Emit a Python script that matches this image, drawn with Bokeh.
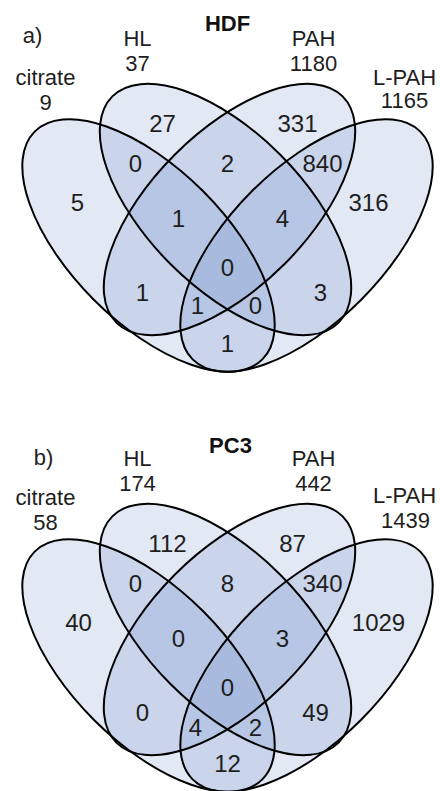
from bokeh.plotting import figure
from bokeh.models import Range1d, ColumnDataSource
from bokeh.core.properties import value
from bokeh.embed import file_html
from bokeh.resources import INLINE

# ---------------- data ----------------
set_names = ["citrate", "HL", "PAH", "L-PAH"]
region_keys = ["A", "B", "C", "D", "AB", "BC", "CD", "ABC", "BCD", "ABCD",
               "AC", "BD", "ACD", "ABD", "AD"]

hdf_title = "HDF"
hdf_totals = [9, 37, 1180, 1165]
hdf_counts = [5, 27, 331, 316, 0, 2, 840, 1, 4, 0, 1, 3, 1, 0, 1]

pc3_title = "PC3"
pc3_totals = [58, 174, 442, 1439]
pc3_counts = [40, 112, 87, 1029, 0, 8, 340, 0, 3, 0, 0, 49, 4, 2, 12]

panel_tags = ["a)", "b)"]

# ---------------- layout (pixel positions, y downward) ----------------
W, H = 440, 791
ell_cx = [148, 225, 229, 306]
ell_cy = [245, 209, 209, 245]
ell_w = [322, 320, 320, 322]
ell_h = [154, 155, 155, 154]
ell_ang = [-45, -45, 45, 45]

pos_top = {"A": (77, 202), "B": (162, 123), "C": (297, 123), "D": (368, 202),
           "AB": (135, 163), "BC": (227, 163), "CD": (322, 163),
           "ABC": (178, 218), "BCD": (282, 218), "ABCD": (227, 267),
           "AC": (142, 292), "BD": (320, 292), "ACD": (197, 305),
           "ABD": (255, 305), "AD": (227, 343)}
pos_bot = {"A": (78, 202), "B": (167, 123), "C": (292, 123), "D": (378, 202),
           "AB": (135, 163), "BC": (227, 163), "CD": (322, 163),
           "ABC": (178, 218), "BCD": (282, 218), "ABCD": (227, 267),
           "AC": (142, 292), "BD": (315, 292), "ACD": (195, 307),
           "ABD": (255, 307), "AD": (227, 343)}
label_pos_top = [(45, 77), (137, 38), (313, 38), (404, 77)]
total_pos_top = [(45, 102), (137, 63), (313, 63), (404, 100)]
label_pos_bot = [(45, 77), (137, 38), (313, 38), (404, 75)]
total_pos_bot = [(45, 102), (137, 63), (313, 63), (405, 100)]
title_pos = [(227, 23), (230, 25)]
tag_pos = [(32, 35), (43, 37)]
offsets = [0, 420]

FONT = "Liberation Sans"
TXT = "#1e1e1e"

p = figure(frame_width=W, frame_height=H, x_range=Range1d(0, W),
           y_range=Range1d(-H, 0), output_backend="svg",
           toolbar_location=None, x_axis_type=None, y_axis_type=None,
           min_border=0)
p.grid.visible = False
p.outline_line_color = None
p.background_fill_color = "white"

panels = [(hdf_title, hdf_totals, hdf_counts, pos_top, label_pos_top, total_pos_top),
          (pc3_title, pc3_totals, pc3_counts, pos_bot, label_pos_bot, total_pos_bot)]

for i, (title, totals, counts, pos, lpos, tpos) in enumerate(panels):
    off = offsets[i]
    src = ColumnDataSource(dict(x=ell_cx, y=[-(c + off) for c in ell_cy],
                                w=ell_w, h=ell_h, a=ell_ang))
    p.ellipse(x="x", y="y", width="w", height="h", angle="a",
              angle_units="deg", source=src, fill_color="#6e8cc8",
              fill_alpha=0.2, line_color=None)
    p.ellipse(x="x", y="y", width="w", height="h", angle="a",
              angle_units="deg", source=src, fill_color=None,
              line_color="black", line_width=2)

    rsrc = ColumnDataSource(dict(
        x=[pos[k][0] for k in region_keys],
        y=[-(pos[k][1] + off) for k in region_keys],
        t=[str(c) for c in counts]))
    p.text(x="x", y="y", text="t", source=rsrc, text_font=value(FONT),
           text_font_size="24px", text_align="center",
           text_baseline="middle", text_color=TXT)

    lsrc = ColumnDataSource(dict(
        x=[q[0] for q in lpos] + [q[0] for q in tpos],
        y=[-(q[1] + off) for q in lpos] + [-(q[1] + off) for q in tpos],
        t=set_names + [str(v) for v in totals]))
    p.text(x="x", y="y", text="t", source=lsrc, text_font=value(FONT),
           text_font_size="22px", text_align="center",
           text_baseline="middle", text_color=TXT)

    p.text(x=[title_pos[i][0]], y=[-(title_pos[i][1] + off)], text=[title],
           text_font=value(FONT), text_font_size="22px",
           text_font_style="bold", text_align="center",
           text_baseline="middle", text_color="#111111")
    p.text(x=[tag_pos[i][0]], y=[-(tag_pos[i][1] + off)], text=[panel_tags[i]],
           text_font=value(FONT), text_font_size="22px", text_align="center",
           text_baseline="middle", text_color=TXT)

open("out.html", "w").write(file_html(p, INLINE))
